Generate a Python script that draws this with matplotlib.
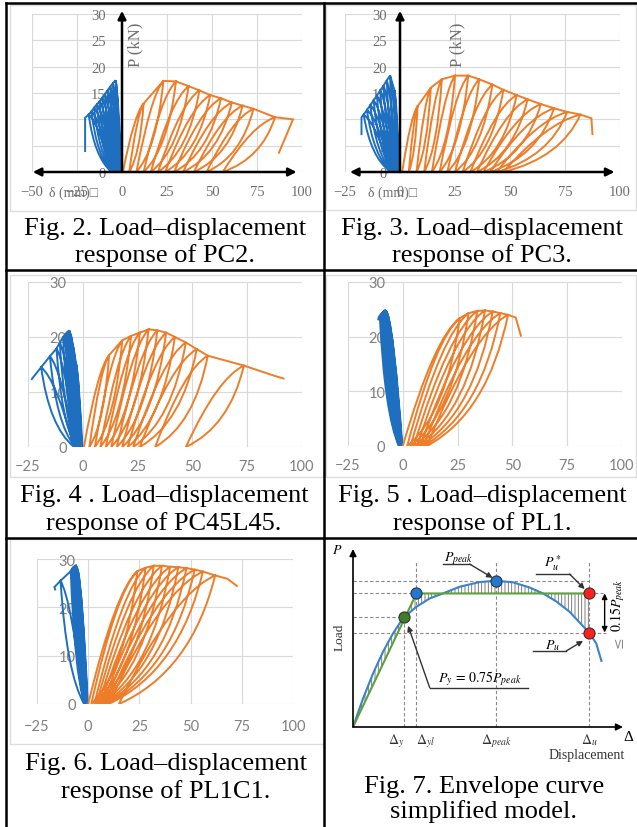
import numpy as np
import matplotlib.pyplot as plt
from matplotlib.path import Path
from matplotlib.patches import PathPatch, Rectangle
from matplotlib.lines import Line2D

plt.rcParams['mathtext.fontset'] = 'stix'
plt.rcParams['hatch.linewidth'] = 0.6
plt.rcParams['hatch.color'] = '#6a6a6a'

# ---------------- data ----------------
# each side: loop start (residual) displacements, peak displacement / load, final point
# PC2
pc2_pos_resid = [0.5, 4, 8, 12, 16, 20, 24, 29, 34, 40, 47, 56]
pc2_pos_d = [12, 23, 30, 37, 43, 49, 55, 61, 67, 73, 85, 95]
pc2_pos_p = [13.0, 17.3, 17.2, 16.3, 15.5, 14.6, 14.0, 13.2, 12.6, 12.0, 10.4, 10.0]
pc2_pos_end = (87, 3.5)
pc2_neg_resid = [-0.2, -0.8, -1.3, -1.8, -2.3, -2.8, -3.3, -3.8, -4.3, -4.8, -5.3, -5.8]
pc2_neg_d = [-3.5, -5, -6.5, -8, -9.5, -11, -12.5, -14, -15.5, -17, -18.5, -20.5]
pc2_neg_p = [17.4, 16.9, 16.2, 15.5, 14.8, 14.1, 13.4, 12.8, 12.2, 11.5, 10.9, 10.3]
pc2_neg_end = (-20.5, 3.8)

# PC3
pc3_pos_resid = [1, 4, 7.5, 11, 14.5, 18, 21.5, 25, 28.5, 32, 35, 38, 41, 44, 47]
pc3_pos_d = [8, 14, 19, 25, 31, 36, 42, 47, 53, 58, 64, 70, 76, 82, 87]
pc3_pos_p = [12.5, 16.0, 17.6, 18.3, 18.3, 17.6, 16.6, 15.6, 14.6, 13.8, 12.9, 12.1, 11.4, 10.9, 10.2]
pc3_pos_end = (87.5, 7.0)
pc3_neg_resid = [-0.2, -0.6, -1.0, -1.4, -1.8, -2.2, -2.6, -3.0, -3.4, -3.8, -4.2]
pc3_neg_d = [-2.5, -4.5, -6, -7.5, -9, -10.5, -12, -13.5, -15, -16.5, -17.5]
pc3_neg_p = [15.5, 18.3, 17.4, 16.4, 15.5, 14.5, 13.6, 12.7, 11.8, 10.9, 10.4]
pc3_neg_end = (-17.5, 7.0)

# PC45L45
pc45_pos_resid = [0.5, 3, 5.5, 8, 10.5, 13, 15.5, 18, 20.5, 23, 26, 33, 47]
pc45_pos_d = [12, 18, 22, 26, 30, 34, 38, 42, 47, 52, 57, 73.5, 87]
pc45_pos_p = [16.7, 19.4, 20.2, 20.8, 21.4, 21.2, 20.8, 20.0, 19.0, 17.8, 16.6, 14.8, 13.0]
pc45_pos_end = (92, 12.4)
pc45_neg_resid = [-0.2, -0.5, -0.8, -1.1, -1.4, -1.7, -2.0, -2.3, -2.6, -3.0, -3.5, -4.0]
pc45_neg_d = [-3, -4.5, -5.5, -6.2, -7, -8, -9, -10.5, -12, -15, -19, -23]
pc45_neg_p = [15.0, 18.5, 20.5, 21.2, 20.9, 20.5, 20.0, 19.0, 17.9, 16.5, 14.5, 12.5]
pc45_neg_end = (-23.5, 12.2)

# PL1
pl1_pos_resid = [0, 2, 3.5, 5, 6.5, 8, 9.5, 11]
pl1_pos_d = [26, 30, 34, 37.5, 41, 44.5, 48, 51.5]
pl1_pos_p = [23.4, 24.3, 24.7, 24.8, 24.6, 24.3, 24.0, 23.5]
pl1_pos_end = (54, 20.0)
pl1_neg_resid = [-0.2, -0.4, -0.6, -0.8, -1.0, -1.2, -1.4, -1.6, -1.8]
pl1_neg_d = [-7, -7.5, -8, -8.5, -9, -9.5, -10, -10.5, -11]
pl1_neg_p = [24.2, 24.6, 24.8, 24.7, 24.5, 24.3, 24.1, 23.8, 23.5]
pl1_neg_end = (-11.3, 23.0)

# PL1C1
pl1c1_pos_resid = [0, 1.5, 3, 4, 5, 6, 7, 8, 9, 10, 15]
pl1c1_pos_d = [24, 28, 32, 36, 40, 44, 48, 52, 56, 62, 68]
pl1c1_pos_p = [27.5, 28.2, 28.6, 28.6, 28.4, 28.3, 28.1, 27.8, 27.4, 26.6, 25.9]
pl1c1_pos_end = (73, 24.3)
pl1c1_neg_resid = [-0.2, -0.4, -0.6, -0.8, -1.0, -1.2, -1.4, -1.6, -1.8, -2.0]
pl1c1_neg_d = [-5, -5.5, -6, -6.5, -7, -7.5, -8, -8.5, -13.5, -16.5]
pl1c1_neg_p = [27.6, 28.3, 28.7, 28.6, 28.4, 28.2, 27.9, 27.5, 25.5, 24.2]
pl1c1_neg_end = (-16, 23.5)

# envelope model (Fig. 7), displacement in % of axis, load / P_peak
env_delta = np.array([0, 3.7, 7.4, 11.1, 14.8, 18.5, 23.5, 28.4, 33.3, 39.5, 46.9,
                      53.1, 59.3, 65.4, 70.4, 75.3, 80.2, 85.2, 87.4, 90.1, 92.0])
env_load = np.array([0, 0.194, 0.365, 0.514, 0.639, 0.744, 0.822, 0.879, 0.913, 0.959, 0.991,
                     1.0, 0.989, 0.954, 0.913, 0.858, 0.788, 0.689, 0.646, 0.571, 0.452])
d_y, d_yl, d_peak, d_u = 19.0, 23.5, 53.1, 87.4
P_peak, P_ustar, P_y, P_u = 1.0, 0.913, 0.75, 0.646

BLUE = '#1f6fc1'
ORANGE = '#ee7d2a'
GRID = '#d9d9d9'
SERIF = ['Liberation Serif', 'DejaVu Serif']

W, H = 637, 828
fig = plt.figure(figsize=(W / 100, H / 100), dpi=100)


def px_axes(x0, x1, y_top, y_bot):
    return fig.add_axes([x0 / W, 1 - y_bot / H, (x1 - x0) / W, (y_bot - y_top) / H])


def loops_path(resid, pk_d, pk_p, end):
    verts, codes = [], []
    for i in range(len(pk_d)):
        r = resid[i]
        verts.append((r, 0))
        codes.append(Path.MOVETO if i == 0 else Path.LINETO)
        tgt = (pk_d[0], pk_p[0]) if i == 0 else (pk_d[i - 1], pk_p[i - 1])
        verts += [(r + 0.55 * (tgt[0] - r), 0.85 * tgt[1]), tgt]
        codes += [Path.CURVE3, Path.CURVE3]
        if i > 0:
            verts.append((pk_d[i], pk_p[i]))
            codes.append(Path.LINETO)
        if i + 1 < len(pk_d):
            r2 = resid[i + 1]
            verts += [(r2 + 0.75 * (pk_d[i] - r2), 0.25 * pk_p[i]), (r2, 0)]
            codes += [Path.CURVE3, Path.CURVE3]
        else:
            verts.append(end)
            codes.append(Path.LINETO)
    return Path(verts, codes)


def hysteresis(ax, neg, pos):
    ax.add_patch(PathPatch(loops_path(*neg), fc='none', ec=BLUE, lw=1.4, zorder=2))
    ax.add_patch(PathPatch(loops_path(*pos), fc='none', ec=ORANGE, lw=1.4, zorder=2))


def excel_axes(box, xlim, ystep, ylab_x, font, xpad, color):
    ax = px_axes(*box)
    ax.set_xlim(xlim)
    ax.set_ylim(0, 30)
    ax.set_xticks(np.arange(xlim[0], xlim[1] + 1, 25))
    ax.set_yticks(np.arange(0, 31, ystep))
    ax.grid(True, color=GRID, lw=0.8)
    ax.set_facecolor('none')
    for s in ax.spines.values():
        s.set_visible(False)
    ax.spines['left'].set_position(('data', ylab_x))
    ax.tick_params(length=0, labelcolor=color, labelsize=10.5)
    ax.tick_params(axis='x', pad=xpad)
    ax.tick_params(axis='y', pad=1)
    for lab in ax.get_xticklabels() + ax.get_yticklabels():
        lab.set_family(font)
    return ax


def arrow_axes(ax, x_from, x_to, y_top, dx_lab, px_lab):
    ax.annotate('', xy=(x_to, 0), xytext=(x_from, 0), xycoords=('axes fraction', 'data'),
                arrowprops=dict(arrowstyle='<|-|>', color='black', lw=1.8,
                                mutation_scale=12, shrinkA=0, shrinkB=0),
                annotation_clip=False, zorder=4)
    ax.annotate('', xy=(0, y_top), xytext=(0, 0),
                arrowprops=dict(arrowstyle='-|>', color='black', lw=1.8,
                                mutation_scale=12, shrinkA=0, shrinkB=0),
                annotation_clip=False, zorder=4)
    ax.text(dx_lab, -3.8, 'δ (mm)□', ha='center', va='center', fontsize=10,
            color='#707070', family=SERIF, clip_on=False)
    ax.text(px_lab, 24.3, 'P (kN)', rotation=90, ha='center', va='center', fontsize=12,
            color='#707070', family=SERIF, clip_on=False)


# panel frames (Excel chart areas)
for x0, x1, y0, y1 in [(10, 324, 6, 212), (326, 636, 6, 211), (10, 324, 276, 478),
                       (326, 636, 276, 478), (10, 324, 540, 745)]:
    fig.add_artist(Rectangle((x0 / W, 1 - y1 / H), (x1 - x0) / W, (y1 - y0) / H,
                             transform=fig.transFigure, fill=False, ec='#dcdcdc', lw=1))

# Fig. 2 PC2
ax1 = excel_axes((32, 302, 15, 173), (-50, 100), 5, -8.3, SERIF, 9, '#6e6e6e')
hysteresis(ax1, (pc2_neg_resid, pc2_neg_d, pc2_neg_p, pc2_neg_end),
           (pc2_pos_resid, pc2_pos_d, pc2_pos_p, pc2_pos_end))
arrow_axes(ax1, 0.003, 0.98, 30.6, -26.7, 7.2)

# Fig. 3 PC3
ax2 = excel_axes((345, 620, 15, 173), (-25, 100), 5, -5.5, SERIF, 9, '#6e6e6e')
hysteresis(ax2, (pc3_neg_resid, pc3_neg_d, pc3_neg_p, pc3_neg_end),
           (pc3_pos_resid, pc3_pos_d, pc3_pos_p, pc3_pos_end))
arrow_axes(ax2, 0.018, 0.98, 30.6, -3.2, 26)

# Fig. 4 PC45L45
ax3 = excel_axes((28, 302, 283, 448), (-25, 100), 10, -6.8, 'Lato', 9, '#808080')
hysteresis(ax3, (pc45_neg_resid, pc45_neg_d, pc45_neg_p, pc45_neg_end),
           (pc45_pos_resid, pc45_pos_d, pc45_pos_p, pc45_pos_end))

# Fig. 5 PL1
ax4 = excel_axes((348, 622, 283, 447), (-25, 100), 10, -7.3, 'Lato', 9, '#808080')
hysteresis(ax4, (pl1_neg_resid, pl1_neg_d, pl1_neg_p, pl1_neg_end),
           (pl1_pos_resid, pl1_pos_d, pl1_pos_p, pl1_pos_end))

# Fig. 6 PL1C1
ax5 = excel_axes((37, 293, 560, 705), (-25, 100), 10, -5.4, 'Lato', 11, '#808080')
hysteresis(ax5, (pl1c1_neg_resid, pl1c1_neg_d, pl1c1_neg_p, pl1c1_neg_end),
           (pl1c1_pos_resid, pl1c1_pos_d, pl1c1_pos_p, pl1c1_pos_end))

# Fig. 7 envelope model
ax6 = px_axes(353, 623, 550, 728)
ax6.set_xlim(0, 100)
ax6.set_ylim(0, 1.217)
for s in ax6.spines.values():
    s.set_visible(False)
ax6.set_facecolor('none')
ax6.set_yticks([])
ax6.set_xticks([d_y, d_yl, d_peak, d_u])
ax6.set_xticklabels([r'$\Delta_y$', r'$\Delta_{yl}$', r'$\Delta_{peak}$', r'$\Delta_u$'])
ax6.tick_params(axis='x', length=0, pad=3, labelsize=10, labelcolor='#333333')
xl = ax6.get_xticklabels()
xl[0].set_horizontalalignment('right')
xl[1].set_horizontalalignment('left')

dash = dict(color='#8a8a8a', lw=0.8, ls=(0, (3, 2)))
ax6.plot([0, d_u], [P_peak, P_peak], **dash)
ax6.plot([0, d_yl], [P_ustar, P_ustar], **dash)
ax6.plot([d_u, 92.5], [P_ustar, P_ustar], **dash)
ax6.plot([0, d_y], [P_y, P_y], **dash)
ax6.plot([0, 93.8], [P_u, P_u], **dash)
ax6.plot([d_y, d_y], [0, P_y], **dash)
for xv in (d_yl, d_peak, d_u):
    ax6.plot([xv, xv], [0, 1.125], **dash)

green = np.minimum(env_delta * P_ustar / d_yl, P_ustar)
inside = env_delta <= d_u
ax6.fill_between(env_delta[inside], env_load[inside], green[inside], facecolor='none',
                 edgecolor='#6a6a6a', hatch='|||||', lw=0, interpolate=True)
ax6.plot(env_delta, env_load, color='#3b82c8', lw=1.5, zorder=3)
ax6.plot([0, d_yl, d_u], [0, P_ustar, P_ustar], color='#5fa03c', lw=1.5, zorder=3)

mk = dict(marker='o', ms=8, mec='#333333', mew=0.8, ls='none', zorder=5)
ax6.plot([d_yl, d_peak], [P_ustar, P_peak], mfc='#1f7ad6', **mk)
ax6.plot([d_y], [P_y], mfc='#3e7d2a', **mk)
ax6.plot([d_u, d_u], [P_ustar, P_u], mfc='#ff1f1f', **mk)

arr = dict(arrowstyle='-|>', color='black', lw=1.2, mutation_scale=10, shrinkA=0, shrinkB=0)
ax6.annotate('', xy=(1.0, 0), xytext=(0, 0), xycoords='axes fraction', arrowprops=arr)
ax6.annotate('', xy=(0, 1.0), xytext=(0, 0), xycoords='axes fraction', arrowprops=arr)
ax6.text(-0.06, 1.0, '$P$', transform=ax6.transAxes, ha='center', va='center', fontsize=10)
ax6.text(1.02, -0.056, 'Δ', transform=ax6.transAxes, ha='center', va='center',
         fontsize=11, family=SERIF)
ax6.text(0.865, -0.155, 'Displacement', transform=ax6.transAxes, ha='center', va='center',
         fontsize=10, family=SERIF, color='#333333')
ax6.text(-0.048, 0.51, 'Load', transform=ax6.transAxes, rotation=90, ha='center',
         va='center', fontsize=9.5, family=SERIF, color='#333333')

lead = dict(color='#333333', lw=1.0)
larr = dict(arrowstyle='-|>', color='#333333', lw=1.0, mutation_scale=8, shrinkA=0, shrinkB=0)
# P_peak
ax6.plot([d_peak - 19.8, d_peak - 9.9], [P_peak + 0.114, P_peak + 0.114], **lead)
ax6.annotate('', xy=(d_peak - 1.4, P_peak + 0.02), xytext=(d_peak - 9.9, P_peak + 0.114),
             arrowprops=larr)
ax6.text(d_peak - 14, P_peak + 0.16, r'$P_{peak}$', ha='center', va='center', fontsize=10)
# P_u*
ax6.plot([d_u - 19.5, d_u - 7.2], [P_ustar + 0.133, P_ustar + 0.133], **lead)
ax6.annotate('', xy=(d_u - 1.6, P_ustar + 0.03), xytext=(d_u - 7.2, P_ustar + 0.133),
             arrowprops=larr)
ax6.text(d_u - 13.4, P_ustar + 0.215, r'$P_u^*$', ha='center', va='center', fontsize=10)
# P_u
ax6.plot([d_u - 20.7, d_u - 8.4], [P_u - 0.126, P_u - 0.126], **lead)
ax6.annotate('', xy=(d_u - 2.2, P_u - 0.057), xytext=(d_u - 8.4, P_u - 0.126),
             arrowprops=larr)
ax6.text(d_u - 13.4, P_u - 0.08, r'$P_u$', ha='center', va='center', fontsize=10)
# P_y
ax6.plot([d_y + 9.4, d_y + 45.8], [P_y - 0.481, P_y - 0.481], **lead)
ax6.annotate('', xy=(d_y + 1.4, P_y - 0.058), xytext=(d_y + 9.4, P_y - 0.481),
             arrowprops=larr)
ax6.text(d_y + 28, P_y - 0.412, r'$P_y\,=\,0.75P_{peak}$', ha='center', va='center',
         fontsize=10)
# 0.15 P_peak band
ax6.annotate('', xy=(93.2, P_ustar), xytext=(93.2, P_u),
             arrowprops=dict(arrowstyle='<|-|>', color='black', lw=1.0, mutation_scale=8,
                             shrinkA=0, shrinkB=0))
ax6.text(98.2, 0.84, r'$0.15P_{peak}$', rotation=90, ha='center', va='center',
         fontsize=10, clip_on=False)
ax6.text(98.2, 0.59, '≤', rotation=90, ha='center', va='center', fontsize=10,
         color='#888888', family=['DejaVu Serif'], clip_on=False)

# captions
captions = [
    (165, 235, 'Fig. 2. Load–displacement'), (165, 262, 'response of PC2.'),
    (482, 235, 'Fig. 3. Load–displacement'), (482, 262, 'response of PC3.'),
    (164, 502, 'Fig. 4 . Load–displacement'), (164, 530, 'response of PC45L45.'),
    (482, 502, 'Fig. 5 . Load–displacement'), (482, 530, 'response of PL1.'),
    (166, 770, 'Fig. 6. Load–displacement'), (166, 798, 'response of PL1C1.'),
    (484, 793, 'Fig. 7. Envelope curve'), (484, 818, 'simplified model.'),
]
for cx, cy, s in captions:
    fig.text(cx / W, 1 - cy / H, s, ha='center', va='baseline', fontsize=19,
             family=SERIF, color='black')

# table rules
for xs, ys in [((6, 637), (4, 4)), ((6, 6), (4, 828)), ((324.5, 324.5), (4, 828)),
               ((6, 637), (271, 271)), ((6, 637), (539, 539))]:
    fig.add_artist(Line2D([x / W for x in xs], [1 - y / H for y in ys],
                          transform=fig.transFigure, color='black', lw=1.8))

fig.savefig('out.png', dpi=100)
